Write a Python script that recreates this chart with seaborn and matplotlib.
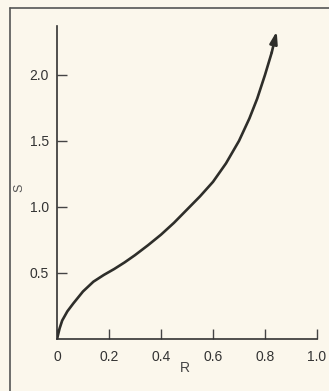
import matplotlib
matplotlib.use("Agg")
import matplotlib.pyplot as plt
import seaborn as sns
import pandas as pd
from matplotlib.lines import Line2D

# Data
R = [0.0, 0.01, 0.02, 0.04, 0.063, 0.10, 0.14, 0.18, 0.22, 0.26, 0.30,
     0.35, 0.40, 0.45, 0.50, 0.55, 0.60, 0.65, 0.70, 0.74, 0.77, 0.80,
     0.826, 0.845]
S = [0.0, 0.08, 0.14, 0.21, 0.27, 0.36, 0.434, 0.485, 0.53, 0.58, 0.635,
     0.71, 0.79, 0.88, 0.98, 1.08, 1.19, 1.33, 1.50, 1.67, 1.82, 2.00,
     2.17, 2.33]
x_ticks = [0, 0.2, 0.4, 0.6, 0.8, 1.0]
x_labels = ["0", "0.2", "0.4", "0.6", "0.8", "1.0"]
y_ticks = [0.5, 1.0, 1.5, 2.0]
y_labels = ["0.5", "1.0", "1.5", "2.0"]

df = pd.DataFrame({"R": R, "S": S})

sns.set_style("ticks")
plt.rcParams["font.family"] = ["Liberation Sans", "DejaVu Sans"]

bg = "#fbf7ec"
ink = "#2e2e2a"
fig = plt.figure(figsize=(3.29, 3.91), dpi=100, facecolor=bg)
ax = fig.add_axes([57 / 329, 52 / 391, 260 / 329, 313 / 391])
ax.set_facecolor(bg)

# curve (without last segment; last one drawn as arrow)
sns.lineplot(data=df.iloc[:-1], x="R", y="S", ax=ax, color=ink, linewidth=1.9,
             sort=False, estimator=None)
ax.annotate("", xy=(R[-1], S[-1]), xytext=(R[-2], S[-2]),
            arrowprops=dict(arrowstyle="-|>,head_length=0.7,head_width=0.22",
                            color=ink, lw=1.9, shrinkA=0, shrinkB=0))

ax.set_xlim(0, 1.0)
ax.set_ylim(0, 2.37)
ax.set_xticks(x_ticks)
ax.set_xticklabels(x_labels)
ax.set_yticks(y_ticks)
ax.set_yticklabels(y_labels)
ax.tick_params(direction="in", length=7, width=1.0, color="#444444",
               labelsize=10, labelcolor="#333333")
ax.tick_params(axis="y", pad=6)
ax.tick_params(axis="x", pad=8)
sns.despine(ax=ax, top=True, right=True)
for sp in ("left", "bottom"):
    ax.spines[sp].set_color("#333333")
    ax.spines[sp].set_linewidth(1.2)

ax.set_xlabel("")
ax.set_ylabel("")
fig.text(185 / 329, 1 - 368 / 391, "R", fontsize=10, color="#444444",
         ha="center", va="center")
fig.text(19 / 329, 1 - 188 / 391, "S", fontsize=9, color="#555555",
         ha="center", va="center", rotation=90)

# outer frame lines (scan border)
fig.add_artist(Line2D([9.5 / 329, 9.5 / 329], [0, 1 - 8 / 391],
                      transform=fig.transFigure, color="#555555", lw=1.2))
fig.add_artist(Line2D([9.5 / 329, 1], [1 - 8 / 391, 1 - 8 / 391],
                      transform=fig.transFigure, color="#555555", lw=1.2))

fig.savefig("out.png", dpi=100, facecolor=bg)
